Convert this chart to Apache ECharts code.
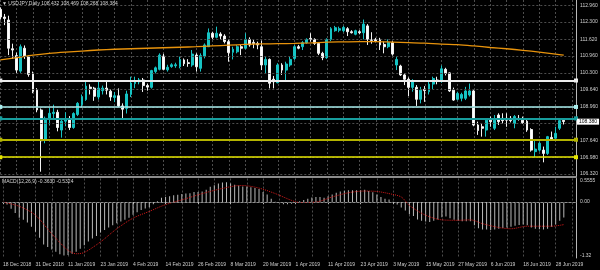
<!DOCTYPE html>
<html><head><meta charset="utf-8">
<script src="https://cdn.jsdelivr.net/npm/echarts/dist/echarts.min.js"></script>
<style>html,body{margin:0;padding:0;background:#000;}#c{width:600px;height:270px;}</style>
</head><body><div id="c"></div>
<script>
// ---- data ----
const dates = ['18 Dec 2018','19 Dec 2018','20 Dec 2018','21 Dec 2018','24 Dec 2018','26 Dec 2018','27 Dec 2018','28 Dec 2018','31 Dec 2018',
'2 Jan 2019','3 Jan 2019','4 Jan 2019','7 Jan 2019','8 Jan 2019','9 Jan 2019','10 Jan 2019','11 Jan 2019','14 Jan 2019','15 Jan 2019','16 Jan 2019','17 Jan 2019','18 Jan 2019','21 Jan 2019','22 Jan 2019','23 Jan 2019','24 Jan 2019','25 Jan 2019','28 Jan 2019','29 Jan 2019','30 Jan 2019','31 Jan 2019',
'1 Feb 2019','4 Feb 2019','5 Feb 2019','6 Feb 2019','7 Feb 2019','8 Feb 2019','11 Feb 2019','12 Feb 2019','13 Feb 2019','14 Feb 2019','15 Feb 2019','18 Feb 2019','19 Feb 2019','20 Feb 2019','21 Feb 2019','22 Feb 2019','25 Feb 2019','26 Feb 2019','27 Feb 2019','28 Feb 2019',
'1 Mar 2019','4 Mar 2019','5 Mar 2019','6 Mar 2019','7 Mar 2019','8 Mar 2019','11 Mar 2019','12 Mar 2019','13 Mar 2019','14 Mar 2019','15 Mar 2019','18 Mar 2019','19 Mar 2019','20 Mar 2019','21 Mar 2019','22 Mar 2019','25 Mar 2019','26 Mar 2019','27 Mar 2019','28 Mar 2019','29 Mar 2019',
'1 Apr 2019','2 Apr 2019','3 Apr 2019','4 Apr 2019','5 Apr 2019','8 Apr 2019','9 Apr 2019','10 Apr 2019','11 Apr 2019','12 Apr 2019','15 Apr 2019','16 Apr 2019','17 Apr 2019','18 Apr 2019','19 Apr 2019','22 Apr 2019','23 Apr 2019','24 Apr 2019','25 Apr 2019','26 Apr 2019','29 Apr 2019','30 Apr 2019',
'1 May 2019','2 May 2019','3 May 2019','6 May 2019','7 May 2019','8 May 2019','9 May 2019','10 May 2019','13 May 2019','14 May 2019','15 May 2019','16 May 2019','17 May 2019','20 May 2019','21 May 2019','22 May 2019','23 May 2019','24 May 2019','27 May 2019','28 May 2019','29 May 2019','30 May 2019','31 May 2019',
'3 Jun 2019','4 Jun 2019','5 Jun 2019','6 Jun 2019','7 Jun 2019','10 Jun 2019','11 Jun 2019','12 Jun 2019','13 Jun 2019','14 Jun 2019','17 Jun 2019','18 Jun 2019','19 Jun 2019','20 Jun 2019','21 Jun 2019','24 Jun 2019','25 Jun 2019','26 Jun 2019','27 Jun 2019','28 Jun 2019',
'1 Jul 2019','2 Jul 2019'];
const futureSlots = ['', '', ''];   // empty chart-shift space on the right

// [open, close, low, high]
const candles = [
[112.80,112.50,112.40,112.88],[112.50,112.44,112.18,112.62],[112.38,111.27,111.00,112.55],[111.25,111.20,110.85,111.45],
[110.98,110.41,110.30,111.10],[110.37,111.33,110.30,111.42],[111.27,110.96,110.85,111.38],[110.94,110.24,110.15,111.00],
[110.27,109.57,109.50,110.35],[109.62,108.84,108.75,109.70],[108.84,107.63,106.41,108.90],[107.66,108.51,107.53,108.58],
[108.47,108.71,108.25,108.95],[108.70,108.75,108.45,109.05],[108.75,108.15,108.00,108.85],[108.05,108.40,107.75,108.50],
[108.40,108.50,108.20,108.75],[108.50,108.15,108.05,108.60],[108.15,108.70,108.10,108.75],[108.66,109.10,108.60,109.15],
[109.05,109.36,108.95,109.45],[109.25,109.78,109.20,109.95],[109.74,109.68,109.45,109.85],[109.70,109.38,109.20,109.75],
[109.35,109.70,109.25,110.00],[109.60,109.70,109.45,109.80],[109.70,109.62,109.45,110.00],[109.58,109.35,109.20,109.65],
[109.33,109.40,109.15,109.55],[109.40,109.00,108.95,109.69],[109.00,108.87,108.50,109.10],[108.90,109.47,108.70,109.60],
[109.45,109.90,109.35,110.15],[109.88,110.00,109.70,110.15],[109.95,110.02,109.85,110.10],[110.02,109.80,109.55,110.10],
[109.80,109.74,109.60,109.88],[109.73,110.39,109.68,110.42],[110.35,110.50,110.28,110.55],[110.44,111.00,110.40,111.07],
[110.96,110.44,110.40,111.05],[110.42,110.52,110.35,110.62],[110.55,110.62,110.50,110.68],[110.58,110.62,110.50,110.70],
[110.54,110.83,110.48,110.94],[110.81,110.66,110.57,110.87],[110.70,110.67,110.54,110.84],[110.61,111.04,110.54,111.20],
[111.00,110.54,110.35,111.07],[110.48,110.98,110.35,111.07],[110.96,111.40,110.87,111.46],[111.33,111.88,111.33,112.05],
[111.86,111.70,111.62,111.92],[111.70,111.86,111.66,112.12],[111.83,111.75,111.62,111.90],[111.75,111.53,111.46,111.82],
[111.53,111.10,110.74,111.62],[111.11,111.23,110.83,111.33],[111.13,111.33,111.07,111.40],[111.33,111.27,111.00,111.40],
[111.27,111.62,111.23,111.86],[111.62,111.40,111.33,111.70],[111.50,111.45,111.27,111.62],[111.46,111.40,111.23,111.53],
[111.33,110.61,110.41,111.57],[110.61,110.83,110.28,110.94],[110.83,109.89,109.69,110.87],[110.05,109.95,109.69,110.18],
[109.91,110.61,109.89,110.68],[110.61,110.41,110.22,110.68],[110.41,110.65,110.02,110.74],[110.61,110.83,110.54,110.94],
[110.87,111.33,110.81,111.40],[111.33,111.27,111.23,111.40],[111.33,111.49,111.20,111.55],[111.49,111.62,111.45,111.66],
[111.66,111.62,111.53,111.86],[111.62,111.46,111.40,111.66],[111.46,111.07,111.00,111.50],[111.07,110.90,110.80,111.13],
[110.90,111.62,110.85,111.66],[111.62,112.04,111.55,112.10],[111.96,112.08,111.92,112.15],[111.98,112.04,111.90,112.12],
[111.96,112.09,111.90,112.15],[112.04,111.92,111.75,112.10],[111.92,111.88,111.85,111.98],[111.82,111.96,111.78,112.00],
[111.92,111.88,111.82,111.98],[111.88,112.22,111.62,112.40],[112.15,111.62,111.40,112.22],[111.60,111.58,111.45,111.90],
[111.62,111.56,111.50,111.68],[111.62,111.40,111.20,111.68],[111.42,111.33,111.07,111.53],[111.33,111.49,111.27,111.62],
[111.49,111.04,110.98,111.55],[110.61,110.83,110.41,110.94],[110.57,110.22,110.18,110.62],[110.22,110.05,109.82,110.28],
[110.05,109.73,109.39,110.12],[109.73,109.95,109.56,110.05],[109.73,109.26,109.00,109.82],[109.26,109.62,109.10,109.75],
[109.65,109.60,109.16,109.78],[109.56,109.86,109.45,109.95],[109.86,110.08,109.66,110.15],[110.02,109.97,109.85,110.15],
[109.97,110.46,109.91,110.59],[110.44,110.28,110.20,110.50],[110.30,109.59,109.55,110.32],[109.62,109.23,109.20,109.72],
[109.26,109.49,109.22,109.56],[109.30,109.45,109.18,109.52],[109.30,109.59,109.23,109.75],[109.43,109.59,109.37,109.88],
[109.59,108.25,108.20,109.66],[108.25,108.03,107.86,108.38],[108.18,108.12,107.79,108.31],[108.05,108.44,107.79,108.51],
[108.44,108.38,108.18,108.58],[108.12,108.44,108.05,108.64],[108.64,108.38,108.25,108.71],[108.51,108.42,108.31,108.71],
[108.51,108.44,108.18,108.71],[108.51,108.42,108.35,108.60],[108.31,108.58,108.12,108.64],[108.51,108.47,108.42,108.64],
[108.44,108.34,108.29,108.58],[108.40,108.05,107.98,108.46],[108.07,107.26,107.20,108.12],[107.20,107.30,106.98,107.66],
[107.26,107.53,107.20,107.59],[107.26,107.13,106.78,107.40],[107.13,107.79,107.07,107.82],[107.76,107.70,107.66,107.99],
[107.73,107.92,107.66,108.18],[108.12,108.42,108.05,108.51],[108.432,108.384,108.268,108.469]];

// moving average (orange), read at every 4th bar
const maBars   = [0,4,8,12,16,20,24,28,32,36,40,44,48,52,56,60,64,68,72,76,80,84,88,92,96,100,104,108,112,116,120,124,128,132,136,138];
const maValues = [110.81,110.90,111.00,111.07,111.12,111.16,111.20,111.23,111.25,111.27,111.29,111.31,111.33,111.36,111.39,111.42,111.44,111.45,111.46,111.48,111.51,111.52,111.53,111.53,111.51,111.49,111.47,111.43,111.41,111.36,111.30,111.25,111.19,111.12,111.04,111.00];

// MACD(12,26,9) main (histogram), one per bar
const macdMain = [
-0.02,-0.06,-0.16,-0.26,-0.37,-0.42,-0.48,-0.58,-0.70,-0.84,
-1.00,-1.06,-1.12,-1.17,-1.23,-1.26,-1.25,-1.22,-1.17,-1.10,
-1.02,-0.93,-0.86,-0.80,-0.72,-0.66,-0.60,-0.55,-0.50,-0.46,
-0.42,-0.37,-0.30,-0.24,-0.19,-0.15,-0.12,-0.05,0.02,0.10,
0.12,0.14,0.16,0.17,0.19,0.20,0.21,0.24,0.24,0.25,
0.29,0.36,0.40,0.44,0.46,0.47,0.44,0.41,0.39,0.37,
0.37,0.35,0.33,0.31,0.24,0.18,0.08,0.01,-0.02,-0.05,
-0.05,-0.04,0.00,0.02,0.05,0.08,0.11,0.12,0.12,0.10,
0.14,0.18,0.22,0.25,0.27,0.28,0.28,0.28,0.28,0.29,
0.26,0.23,0.18,0.12,0.08,0.06,0.01,-0.06,-0.13,-0.20,
-0.29,-0.33,-0.41,-0.44,-0.46,-0.47,-0.44,-0.41,-0.36,-0.34,
-0.38,-0.42,-0.44,-0.45,-0.45,-0.45,-0.55,-0.62,-0.65,-0.65,
-0.66,-0.65,-0.63,-0.61,-0.60,-0.58,-0.56,-0.54,-0.53,-0.55,
-0.60,-0.63,-0.64,-0.65,-0.63,-0.58,-0.53,-0.44,-0.363];

// MACD signal line (red dotted), read at sample bars
const sigBars   = [0,4,8,12,16,18,20,24,28,32,36,40,45,49,53,57,59,63,67,71,73,77,81,85,89,92,95,98,100,104,108,112,115,118,122,125,129,132,135,138];
const sigValues = [0.00,-0.10,-0.31,-0.75,-1.14,-1.22,-1.19,-0.94,-0.63,-0.38,-0.22,-0.06,0.08,0.20,0.30,0.38,0.39,0.33,0.20,0.04,-0.01,0.00,0.12,0.22,0.26,0.25,0.20,0.12,-0.08,-0.31,-0.42,-0.43,-0.42,-0.51,-0.60,-0.63,-0.57,-0.57,-0.57,-0.5324];

// axis tick labels
const priceTicks = [112.96,112.30,111.62,110.96,110.30,109.64,108.96,108.30,107.64,106.98,106.32];
const macdTicks  = [0.5555, 0, -1.32];
const macdTickLabels = ['0.5555','0.00','-1.32'];
// horizontal level lines drawn on the chart
const levelPrices = [110.00, 108.96, 108.51, 107.67, 106.98];
const lastPrice = 108.384;
const headerText = 'USDJPY,Daily 108.432 108.469 108.268 108.384';
const macdText = 'MACD(12,26,9) -0.3630 -0.5324';

// ---- styles ----
const levelStyles = [
  {color:'#ececec', width:2},
  {color:'#a9eded', width:1.5},
  {color:'#179d9d', width:2},
  {color:'#b3b300', width:2},
  {color:'#e6e600', width:1.5}
];
const FONT = 'Liberation Sans, Arial, sans-serif';
const gridDash = {color:'#4d4d4d', width:1, type:[2,2]};
const HIDDEN = 'rgba(0,0,0,0)';

const cats = dates.concat(futureSlots);
const chart = echarts.init(document.getElementById('c'), null, {renderer:'canvas', width:600, height:270});

const option = {
  backgroundColor:'#000',
  animation:false,
  textStyle:{fontFamily:FONT},
  title:[
    {text:'\u25BC ' + headerText, left:1, top:0, padding:[1,1], textStyle:{color:'#d4d4d4', fontSize:5, fontWeight:'normal', fontFamily:FONT}},
    {text:macdText, left:1, top:178, padding:[1,1], textStyle:{color:'#d4d4d4', fontSize:5, fontWeight:'normal', fontFamily:FONT}}
  ],
  grid:[
    {left:0.3, right:24, top:0, height:177},
    {left:0.3, right:24, top:178.5, height:79.5}
  ],
  xAxis:[
    {type:'category', gridIndex:0, data:cats, boundaryGap:false,
     axisLine:{show:true, lineStyle:{color:'#8c8c8c', width:2}}, axisTick:{show:false}, axisLabel:{show:false},
     splitLine:{show:true, interval:3, lineStyle:gridDash}},
    {type:'category', gridIndex:1, data:cats, boundaryGap:false,
     axisLine:{show:true, lineStyle:{color:'#8c8c8c', width:1}},
     axisTick:{show:true, interval:7, length:2, inside:false, lineStyle:{color:'#bdbdbd'}},
     axisLabel:{show:true, interval:7, align:'left', fontSize:5, color:'#cfcfcf', margin:4, fontFamily:FONT},
     splitLine:{show:true, interval:3, lineStyle:gridDash}}
  ],
  yAxis:[
    {type:'value', gridIndex:0, min:106.202, max:113.169, position:'right', scale:true,
     axisLine:{show:true, lineStyle:{color:'#b8b8b8'}}, axisTick:{show:false}, axisLabel:{show:false}, splitLine:{show:false}},
    {type:'value', gridIndex:1, min:-1.3205, max:0.5565, position:'right',
     axisLine:{show:true, lineStyle:{color:'#b8b8b8'}}, axisTick:{show:false}, axisLabel:{show:false}, splitLine:{show:false}}
  ],
  series:[
    { // price grid + labels
      name:'priceGrid', type:'line', xAxisIndex:0, yAxisIndex:0, data:[], z:1, silent:true,
      markLine:{silent:true, symbol:['none','none'], animation:false,
        lineStyle:gridDash,
        label:{show:true, position:'end', distance:4, fontSize:5, color:'#cfcfcf', fontFamily:FONT,
          formatter:p => Math.abs(p.value - lastPrice) < 0.15 ? '' : Number(p.value).toFixed(3)},
        data: priceTicks.map(v => ({yAxis:v}))}
    },
    {
      name:'USDJPY', type:'candlestick', xAxisIndex:0, yAxisIndex:0, data:candles, barWidth:2.4, z:2,
      itemStyle:{color:'#16c3c3', color0:'#ffffff', borderColor:'#16c3c3', borderColor0:'#f2f2f2', borderWidth:1}
    },
    {
      name:'MA', type:'line', xAxisIndex:0, yAxisIndex:0, z:3, showSymbol:false, smooth:0.3,
      data: maBars.map((b,k) => [b, maValues[k]]),
      lineStyle:{color:'#e8930c', width:1.3}
    },
    { // horizontal level lines
      name:'levels', type:'line', xAxisIndex:0, yAxisIndex:0, data:[], z:4, silent:true,
      markLine:{silent:true, animation:false, symbol:['rect','rect'], symbolSize:[4,4], label:{show:false},
        data: levelPrices.map((v,k) => ({yAxis:v, lineStyle:{color:levelStyles[k].color, width:levelStyles[k].width, type:'solid'},
                                           itemStyle:{color:levelStyles[k].color}}))}
    },
    { // last price box on the axis
      name:'last', type:'line', xAxisIndex:0, yAxisIndex:0, data:[], z:5, silent:true,
      markLine:{silent:true, animation:false, symbol:['none','none'],
        lineStyle:{color:HIDDEN, width:1},
        label:{show:true, position:'end', distance:1, fontSize:5, color:'#000', backgroundColor:'#ffffff', padding:[1,2,0,2], fontFamily:FONT,
          formatter:p => Number(p.value).toFixed(3)},
        data:[{yAxis:lastPrice}]}
    },
    {
      name:'MACD', type:'bar', xAxisIndex:1, yAxisIndex:1, data:macdMain, barWidth:1, z:2,
      itemStyle:{color:'#b9b9b9'},
      markLine:{silent:true, animation:false, symbol:['none','none'], label:{show:false},
        data:[{yAxis:0, lineStyle:{color:'#5a5a5a', width:1, type:[2,2]}}]}
    },
    {
      name:'Signal', type:'line', xAxisIndex:1, yAxisIndex:1, z:3, showSymbol:false, smooth:0.3,
      data: sigBars.map((b,k) => [b, sigValues[k]]),
      lineStyle:{color:'#d41a1a', width:1, type:[1,1]}
    }
  ]
};
chart.setOption(option);

// MACD scale labels on the right axis, placed through the axis scale
const axisX = chart.convertToPixel({gridIndex:1}, [cats.length - 1, 0])[0];
chart.setOption({
  graphic: macdTicks.map((v,k) => ({
    type:'text', silent:true, z:10,
    x: axisX + 4,
    y: chart.convertToPixel({yAxisIndex:1}, v),
    style:{text:macdTickLabels[k], fill:'#cfcfcf', fontSize:5, fontFamily:FONT, align:'left',
           verticalAlign: k === 0 ? 'top' : (k === macdTicks.length-1 ? 'bottom' : 'middle')}
  }))
});
</script>
</body></html>
